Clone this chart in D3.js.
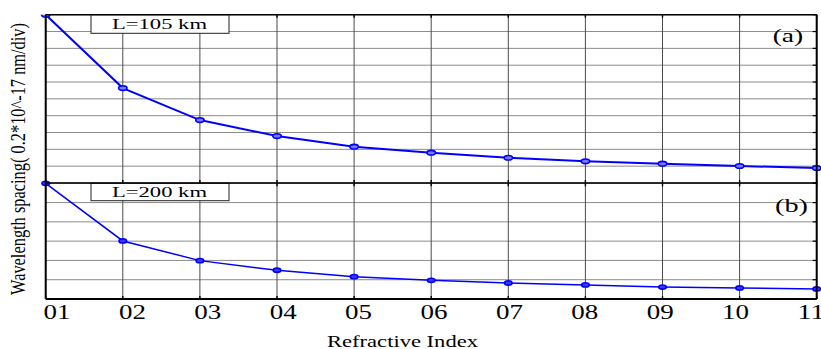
<!DOCTYPE html>
<html>
<head>
<meta charset="utf-8">
<script src="https://cdn.jsdelivr.net/npm/d3@7"></script>
<style>
  html, body { margin: 0; padding: 0; background: #fff; }
  svg { display: block; }
  text { font-family: "Liberation Serif", "Times New Roman", serif; fill: #000; }
</style>
</head>
<body>
<svg id="chart" width="821" height="349"></svg>
<script>
// Refractive index samples along the x axis
const categories = ["01", "02", "03", "04", "05", "06", "07", "08", "09", "10", "11"];

// Wavelength spacing (divisions of 0.2*10^-17 nm) for the two fibre lengths
const spacing105 = [10, 5.64, 3.74, 2.79, 2.16, 1.80, 1.50, 1.29, 1.15, 1.01, 0.89];
const spacing200 = [6, 3.01, 1.99, 1.49, 1.16, 0.97, 0.83, 0.73, 0.62, 0.57, 0.52];

// Grid divisions for each panel
const divisionsA = d3.range(0, 11);
const divisionsB = d3.range(0, 7);

const panelLabels = ["L=105 km", "L=200 km"];
const panelTags = ["(a)", "(b)"];
const xTitle = "Refractive Index";
const yTitle = "Wavelength spacing( 0.2*10^-17 nm/div)";

const svg = d3.select("#chart");

const left = 45.7, right = 816.7;
const topA = 14.7, bottomA = 183, topB = 183.3, bottomB = 299;

const x = d3.scalePoint().domain(categories).range([left, right]);
// tick labels sit on their own slightly narrower run
const xLabel = d3.scalePoint().domain(categories).range([57, 811]);

const yA = d3.scaleLinear().domain([0, 10]).range([bottomA, topA]);
const yB = d3.scaleLinear().domain([0, 6]).range([bottomB, topB]);

// the upper panel clips its marks to the plot area
svg.append("defs").append("clipPath").attr("id", "clipA")
  .append("rect").attr("x", 0).attr("y", topA)
  .attr("width", 821).attr("height", bottomA - topA);

function drawPanel(g, y, divisions, values, top, bottom, opts) {
  // horizontal grid
  g.append("g").selectAll("line").data(divisions).join("line")
    .attr("x1", left).attr("x2", right)
    .attr("y1", d => y(d)).attr("y2", d => y(d))
    .attr("stroke", "#8c8c8c").attr("stroke-width", 1);
  // vertical grid
  g.append("g").selectAll("line").data(categories).join("line")
    .attr("x1", d => x(d)).attr("x2", d => x(d))
    .attr("y1", top).attr("y2", bottom)
    .attr("stroke", "#4a4a4a").attr("stroke-width", 1);
  // right-hand inward ticks
  g.append("g").selectAll("line").data(divisions).join("line")
    .attr("x1", right - 4).attr("x2", right)
    .attr("y1", d => y(d)).attr("y2", d => y(d))
    .attr("stroke", "#000").attr("stroke-width", 1.2);
  // top/bottom ticks
  g.append("g").selectAll("line").data(categories).join("line")
    .attr("x1", d => x(d)).attr("x2", d => x(d))
    .attr("y1", top).attr("y2", top + 3)
    .attr("stroke", "#000").attr("stroke-width", 1.4);
  g.append("g").selectAll("line").data(categories).join("line")
    .attr("x1", d => x(d)).attr("x2", d => x(d))
    .attr("y1", bottom - 3).attr("y2", bottom)
    .attr("stroke", "#000").attr("stroke-width", 1.4);

  // series line and markers
  const marks = g.append("g");
  if (opts.clip) marks.attr("clip-path", `url(#${opts.clip})`);
  const line = d3.line().x((d, i) => x(categories[i])).y(d => y(d));
  marks.append("path").datum(values)
    .attr("d", line)
    .attr("fill", "none")
    .attr("stroke", "#0000ff")
    .attr("stroke-width", opts.lineWidth);
  marks.append("g").selectAll("ellipse").data(values).join("ellipse")
    .attr("cx", (d, i) => x(categories[i]))
    .attr("cy", d => y(d))
    .attr("rx", opts.rx).attr("ry", opts.ry)
    .attr("fill", opts.markerFill)
    .attr("stroke", "#0000ff")
    .attr("stroke-width", 1.6);

  // panel label box
  g.append("rect")
    .attr("x", 91).attr("y", top)
    .attr("width", 138).attr("height", opts.boxH)
    .attr("fill", "#fff").attr("stroke", "#222").attr("stroke-width", 1);
  g.append("text")
    .attr("x", 112).attr("y", opts.labelBase)
    .attr("font-size", 15)
    .attr("textLength", 95).attr("lengthAdjust", "spacingAndGlyphs")
    .text(opts.label);

  g.append("text")
    .attr("x", opts.tagX).attr("y", opts.tagBase)
    .attr("font-size", 18)
    .attr("textLength", opts.tagW).attr("lengthAdjust", "spacingAndGlyphs")
    .text(opts.tag);
}

drawPanel(svg.append("g"), yA, divisionsA, spacing105, topA, bottomA, {
  lineWidth: 2, rx: 4.2, ry: 2.3, markerFill: "#7a7aff", clip: "clipA",
  boxH: 18.6, label: panelLabels[0], labelBase: 29,
  tag: panelTags[0], tagX: 772.7, tagBase: 41.5, tagW: 30.5
});
drawPanel(svg.append("g"), yB, divisionsB, spacing200, topB, bottomB, {
  lineWidth: 1.5, rx: 3.8, ry: 2.1, markerFill: "#3a3aff", clip: null,
  boxH: 17.4, label: panelLabels[1], labelBase: 196.7,
  tag: panelTags[1], tagX: 775, tagBase: 211.7, tagW: 33
});

// frames
const frame = svg.append("g").attr("fill", "none").attr("stroke", "#000");
frame.append("line").attr("x1", left).attr("x2", right).attr("y1", topA).attr("y2", topA).attr("stroke-width", 1.5);
frame.append("line").attr("x1", left).attr("x2", right).attr("y1", bottomA).attr("y2", bottomA).attr("stroke-width", 1.6);
frame.append("line").attr("x1", left).attr("x2", right).attr("y1", bottomB).attr("y2", bottomB).attr("stroke-width", 2);
frame.append("line").attr("x1", left).attr("x2", left).attr("y1", topA).attr("y2", bottomB).attr("stroke-width", 2);
frame.append("line").attr("x1", right).attr("x2", right).attr("y1", topA).attr("y2", bottomB).attr("stroke-width", 2);

// x tick labels
svg.append("g").selectAll("text").data(categories).join("text")
  .attr("x", d => xLabel(d) - 13.5)
  .attr("y", 319)
  .attr("font-size", 20)
  .attr("textLength", 27).attr("lengthAdjust", "spacingAndGlyphs")
  .text(d => d);

// axis titles
svg.append("text")
  .attr("x", 327).attr("y", 346.5)
  .attr("font-size", 16)
  .attr("textLength", 151).attr("lengthAdjust", "spacingAndGlyphs")
  .text(xTitle);

svg.append("text")
  .attr("transform", "translate(25,295) scale(1.26,1) rotate(-90)")
  .attr("x", 0).attr("y", 0)
  .attr("font-size", 16)
  .attr("textLength", 272).attr("lengthAdjust", "spacingAndGlyphs")
  .text(yTitle);
</script>
</body>
</html>
